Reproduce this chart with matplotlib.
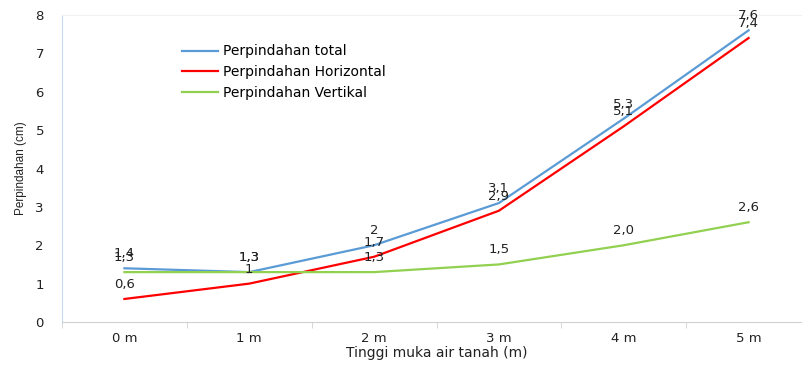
import matplotlib
matplotlib.use("Agg")
import matplotlib.pyplot as plt
from matplotlib.ticker import FixedLocator

categories = ["0 m", "1 m", "2 m", "3 m", "4 m", "5 m"]
total = [1.4, 1.3, 2.0, 3.1, 5.3, 7.6]
horizontal = [0.6, 1.0, 1.7, 2.9, 5.1, 7.4]
vertical = [1.3, 1.3, 1.3, 1.5, 2.0, 2.6]
total_labels = ["1,4", "1,3", "2", "3,1", "5,3", "7,6"]
horizontal_labels = ["0,6", "1", "1,7", "2,9", "5,1", "7,4"]
vertical_labels = ["1,3", "1,3", "1,3", "1,5", "2,0", "2,6"]
series_names = ["Perpindahan total", "Perpindahan Horizontal", "Perpindahan Vertikal"]
colors = ["#5B9BD5", "#FF0000", "#92D050"]

fig = plt.figure(figsize=(8.02, 3.65), dpi=100)
ax = fig.add_axes([62/802, 1-322/365, (811-62)/802, (322-15)/365])

x = list(range(len(categories)))
for vals, labs, name, c in zip([total, horizontal, vertical],
                               [total_labels, horizontal_labels, vertical_labels],
                               series_names, colors):
    ax.plot(x, vals, color=c, lw=1.6, label=name)
    for xi, v, l in zip(x, vals, labs):
        ax.annotate(l, (xi, v), xytext=(0, 10.5), textcoords="offset points",
                    ha="center", va="center", fontsize=9.5, color="#222222")

ax.set_xlim(-0.5, 5.5)
ax.set_ylim(0, 8)
ax.set_yticks(range(0, 9))
ax.set_xticks(x)
ax.set_xticklabels(categories)
ax.xaxis.set_minor_locator(FixedLocator([i + 0.5 for i in range(-1, 6)]))
ax.tick_params(axis="x", which="major", length=0, pad=7, labelsize=9.5, colors="#222222")
ax.tick_params(axis="x", which="minor", length=4, color="#d0d0d0")
ax.tick_params(axis="y", length=0, pad=13, labelsize=9.5, colors="#222222")

ax.spines["right"].set_visible(False)
ax.spines["top"].set_color("#f2f2f2")
ax.spines["left"].set_color("#c5d9ee")
ax.spines["bottom"].set_color("#d0d0d0")

ax.set_xlabel("Tinggi muka air tanah (m)", fontsize=10, labelpad=1, color="#222222")
ax.set_ylabel("Perpindahan (cm)", fontsize=8.5, family=["Liberation Sans", "DejaVu Sans"],
              labelpad=6, color="#222222")

leg = ax.legend(loc="upper left", bbox_to_anchor=(0.143, 0.945), frameon=False,
                fontsize=10, handlelength=2.6, handletextpad=0.4, labelspacing=0.48)

fig.savefig("out.png", dpi=100)
